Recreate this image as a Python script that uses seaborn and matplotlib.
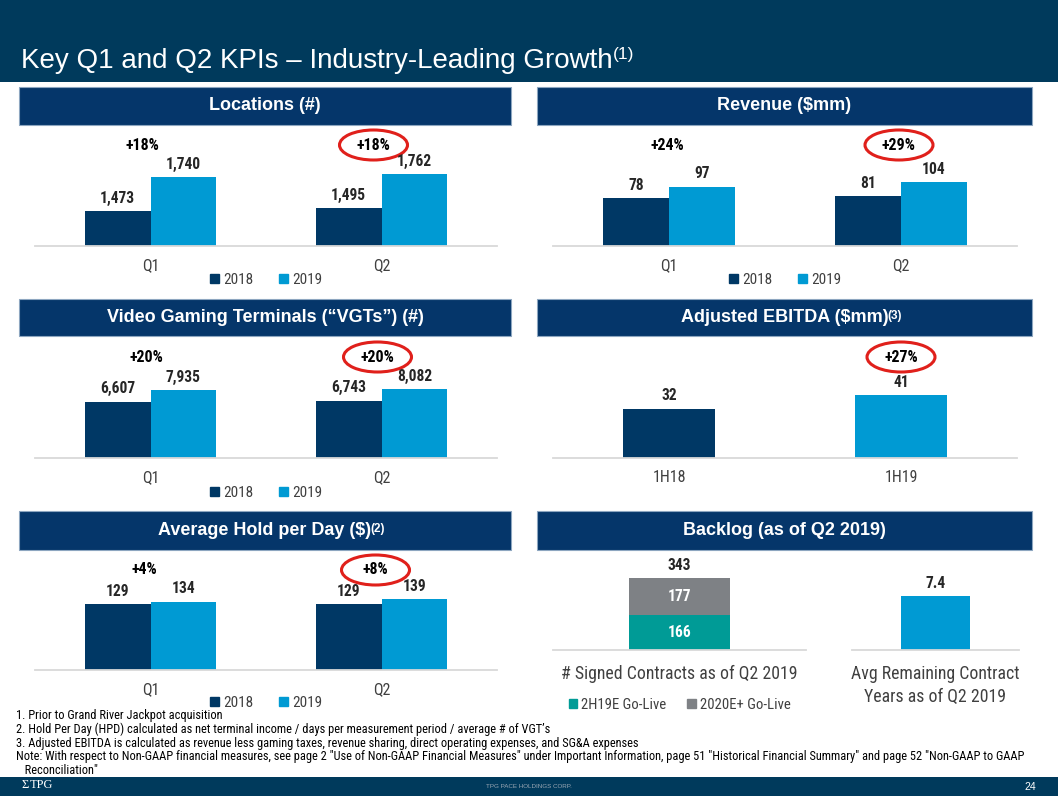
import numpy as np
import pandas as pd
import matplotlib
matplotlib.use("Agg")
import matplotlib.pyplot as plt
import seaborn as sns
from matplotlib import font_manager
from matplotlib.patches import Rectangle, Ellipse
from matplotlib.transforms import blended_transform_factory, offset_copy

# ---------------- data ----------------
quarters = ["Q1", "Q2"]
years = ["2018", "2019"]
locations_2018 = [1473, 1495]
locations_2019 = [1740, 1762]
locations_growth = ["+18%", "+18%"]
revenue_2018 = [78, 81]
revenue_2019 = [97, 104]
revenue_growth = ["+24%", "+29%"]
vgt_2018 = [6607, 6743]
vgt_2019 = [7935, 8082]
vgt_growth = ["+20%", "+20%"]
hold_2018 = [129, 129]
hold_2019 = [134, 139]
hold_growth = ["+4%", "+8%"]
ebitda_periods = ["1H18", "1H19"]
ebitda_values = [32, 41]
ebitda_growth = ["", "+27%"]
backlog_category = ["# Signed Contracts as of Q2 2019"]
backlog_series = ["2H19E Go-Live", "2020E+ Go-Live"]
backlog_2h19 = [166]
backlog_2020 = [177]
contract_category = ["Avg Remaining Contract\nYears as of Q2 2019"]
contract_years = [7.4]

footnotes = [
    "1. Prior to Grand River Jackpot acquisition",
    "2. Hold Per Day (HPD) calculated as net terminal income / days per measurement period / average # of VGT\u2019s",
    "3. Adjusted EBITDA is calculated as revenue less gaming taxes, revenue sharing, direct operating expenses, and SG&A expenses",
    "Note: With respect to Non-GAAP financial measures, see page 2 \"Use of Non-GAAP Financial Measures\" under Important Information, page 51 \"Historical Financial Summary\" and page 52 \"Non-GAAP to GAAP",
    "   Reconciliation\"",
]

# ---------------- style ----------------
NAVY = "#003865"
BLUE = "#009AD3"
TEAL = "#009B96"
GRAY = "#7E8185"
BAND = "#003A5C"
PANEL = "#05366A"
RED = "#E0201B"
LABEL = "#262626"
TICK = "#404040"

W, H = 1058, 796
sns.set_theme(style="white")
names = {f.name for f in font_manager.fontManager.ttflist}
NARROW = "Liberation Sans"
for cand in ["Liberation Sans Narrow", "Arial Narrow", "Roboto Condensed", "PT Sans Narrow"]:
    if cand in names:
        NARROW = cand
        break
plt.rcParams["font.family"] = ["Liberation Sans", "DejaVu Sans"]

fig = plt.figure(figsize=(W / 100, H / 100), dpi=100)
fig.patch.set_facecolor("white")


def fx(x):
    return x / W


def fy(y):
    return 1 - y / H


def add_ax(l, t, r, b):
    ax = fig.add_axes([fx(l), fy(b), (r - l) / W, (b - t) / H])
    ax.set_facecolor("none")
    return ax


def style_ax(ax, pad=10, size=10.5):
    for s in ["top", "left", "right"]:
        ax.spines[s].set_visible(False)
    ax.spines["bottom"].set_color("#D9D9D9")
    ax.spines["bottom"].set_linewidth(1.3)
    ax.set_yticks([])
    ax.set_xlabel("")
    ax.set_ylabel("")
    ax.tick_params(axis="x", length=0, pad=pad, labelsize=size, labelcolor=TICK)
    for t in ax.get_xticklabels():
        t.set_family(NARROW)


def panel_header(l, t, r, b, text, sup=None):
    fig.add_artist(Rectangle((fx(l), fy(b)), (r - l) / W, (b - t) / H,
                             transform=fig.transFigure, facecolor=PANEL,
                             edgecolor="#8DA6C0", lw=0.8))
    txt = fig.text(fx((l + r) / 2), fy((t + b) / 2), text, ha="center", va="center",
                   color="white", fontsize=13, fontweight="bold")
    if sup:
        fig.add_artist(plt.Annotation(sup, xy=(1, 1), xycoords=txt, xytext=(-0.5, -0.5),
                                      textcoords="offset points", ha="left", va="top",
                                      color="white", fontsize=8.5, fontweight="bold"))


def growth_marks(ax, labels, gy, dx, circle_idx, cat_px):
    trans = offset_copy(blended_transform_factory(ax.transData, fig.transFigure),
                        fig=fig, x=dx, y=0, units="dots")
    for i, lab in enumerate(labels):
        if lab:
            ax.text(i, fy(gy), lab, transform=trans, ha="center", va="center",
                    fontsize=11.5, fontweight="bold", family=NARROW, color="black",
                    clip_on=False)
    if circle_idx is not None:
        ax.add_patch(Ellipse((circle_idx, fy(gy)), 68 / cat_px, 30 / H, transform=trans,
                             facecolor="none", edgecolor=RED, lw=2.2, clip_on=False))


def legend_below(ax, labels, colors, ly, size=11, spacing=1.7):
    handles = [Rectangle((0, 0), 1, 1, color=c) for c in colors]
    pos = ax.get_position()
    leg = ax.legend(handles, labels, loc="center", bbox_to_anchor=((pos.x0 + pos.x1) / 2, fy(ly)),
                    bbox_transform=fig.transFigure, ncol=len(labels), frameon=False,
                    handlelength=0.6, handleheight=0.6, handletextpad=0.25,
                    columnspacing=spacing, prop={"family": NARROW, "size": size})
    for t in leg.get_texts():
        t.set_color(TICK)


def grouped_panel(rect, v18, v19, ylim, growth, gy, dx, ly):
    ax = add_ax(*rect)
    df = pd.DataFrame({"quarter": quarters * 2,
                       "year": [years[0]] * 2 + [years[1]] * 2,
                       "value": list(v18) + list(v19)})
    sns.barplot(data=df, x="quarter", y="value", hue="year", palette=[NAVY, BLUE],
                width=0.57, saturation=1, ax=ax, legend=False, linewidth=0, errorbar=None)
    for c in ax.containers:
        ax.bar_label(c, labels=[f"{v:,.0f}" for v in c.datavalues], padding=4,
                     fontsize=11.2, fontweight="bold", family=NARROW, color=LABEL)
    cat_px = (rect[2] - rect[0]) / 2
    growth_marks(ax, growth, gy, dx, 1, cat_px)
    ax.set_ylim(*ylim)
    ax.set_xlim(-0.5, 1.5)
    style_ax(ax, pad=9, size=11.5)
    legend_below(ax, years, [NAVY, BLUE], ly)
    return ax


# ---------------- title band & footer ----------------
fig.add_artist(Rectangle((0, fy(82)), 1, 82 / H, transform=fig.transFigure,
                         facecolor=BAND, edgecolor="none"))
title = fig.text(fx(21), fy(68), "Key Q1 and Q2 KPIs \u2013 Industry-Leading Growth",
                 ha="left", va="baseline", color="white", fontsize=20)
fig.add_artist(plt.Annotation("(1)", xy=(1, 1), xycoords=title, xytext=(0.5, 1),
                              textcoords="offset points", ha="left", va="top",
                              color="white", fontsize=12.5))

fig.add_artist(Rectangle((0, 0), 1, 19 / H, transform=fig.transFigure,
                         facecolor=BAND, edgecolor="none"))
fig.text(fx(529), fy(786), "TPG PACE HOLDINGS CORP.", ha="center", va="center",
         color="#9AA7B4", fontsize=4.5)
fig.text(fx(1030), fy(787), "24", ha="center", va="center", color="white", fontsize=7.5)
fig.text(fx(30), fy(785), "TPG", ha="left", va="center", color="white", fontsize=9,
         family="Liberation Serif")
fig.text(fx(21), fy(785), "\u03a3", ha="left", va="center", color="white", fontsize=9,
         family="Liberation Serif")

# ---------------- panel headers ----------------
panel_header(19, 87, 511, 125, "Locations (#)")
panel_header(537, 87, 1032, 125, "Revenue ($mm)")
panel_header(19, 299, 511, 336, "Video Gaming Terminals (\u201cVGTs\u201d) (#)")
panel_header(537, 299, 1032, 336, "Adjusted EBITDA ($mm)", "(3)")
panel_header(19, 511, 511, 550, "Average Hold per Day ($)", "(2)")
panel_header(537, 511, 1032, 550, "Backlog (as of Q2 2019)")

# ---------------- grouped panels ----------------
grouped_panel((35, 135, 497, 246), locations_2018, locations_2019, (1200, 2072),
              locations_growth, 145, -8, 280)
grouped_panel((553, 135, 1017, 246), revenue_2018, revenue_2019, (0, 181),
              revenue_growth, 145, -2, 280)
grouped_panel((35, 347, 497, 457.7), vgt_2018, vgt_2019, (0, 13055),
              vgt_growth, 357, -4, 493)
grouped_panel((35, 560, 497, 670), hold_2018, hold_2019, (0, 216),
              hold_growth, 570, -6, 703)

# ---------------- EBITDA ----------------
ax = add_ax(553, 347, 1017, 457.7)
sns.barplot(x=ebitda_periods, y=ebitda_values, hue=ebitda_periods, palette=[NAVY, BLUE],
            width=0.4, saturation=1, ax=ax, legend=False, linewidth=0, errorbar=None)
for c in ax.containers:
    ax.bar_label(c, labels=[f"{v:,.0f}" for v in c.datavalues], padding=4,
                 fontsize=11.2, fontweight="bold", family=NARROW, color=LABEL)
growth_marks(ax, ebitda_growth, 357, 0, 1, 232)
ax.set_ylim(0, 72.8)
ax.set_xlim(-0.5, 1.5)
style_ax(ax, pad=9, size=11.5)

# ---------------- Backlog ----------------
axl = add_ax(553, 555, 806, 650)
backlog_total = [a + b for a, b in zip(backlog_2h19, backlog_2020)]
sns.barplot(x=backlog_category, y=backlog_total, color=GRAY, width=0.4, saturation=1,
            ax=axl, linewidth=0, errorbar=None)
sns.barplot(x=backlog_category, y=backlog_2h19, color=TEAL, width=0.4, saturation=1,
            ax=axl, linewidth=0, errorbar=None)
axl.bar_label(axl.containers[0], labels=[f"{v:,.0f}" for v in backlog_total], padding=4,
              fontsize=11.2, fontweight="bold", family=NARROW, color=LABEL)
for i, (a, b) in enumerate(zip(backlog_2h19, backlog_2020)):
    axl.text(i, a / 2, f"{a}", ha="center", va="center", color="white",
             fontsize=11.2, fontweight="bold", family=NARROW)
    axl.text(i, a + b / 2, f"{b}", ha="center", va="center", color="white",
             fontsize=11.2, fontweight="bold", family=NARROW)
axl.set_ylim(0, 455)
axl.set_xlim(-0.5, 0.5)
style_ax(axl, pad=11, size=12.8)
legend_below(axl, backlog_series, [TEAL, GRAY], 705, size=10.6, spacing=1.4)

axr = add_ax(852, 555, 1019, 650)
sns.barplot(x=contract_category, y=contract_years, color=BLUE, width=0.41, saturation=1,
            ax=axr, linewidth=0, errorbar=None)
axr.bar_label(axr.containers[0], labels=[f"{v:.1f}" for v in contract_years], padding=4,
              fontsize=11.2, fontweight="bold", family=NARROW, color=LABEL)
axr.set_ylim(0, 13.1)
axr.set_xlim(-0.5, 0.5)
style_ax(axr, pad=11, size=12.8)
for t in axr.get_xticklabels():
    t.set_linespacing(1.35)

# ---------------- footnotes ----------------
for y, line in zip([716, 729.5, 743, 756.5, 770], footnotes):
    fig.text(fx(16), fy(y), line, ha="left", va="center", color="black",
             fontsize=8.9, family=NARROW)

fig.savefig("out.png", dpi=100)
